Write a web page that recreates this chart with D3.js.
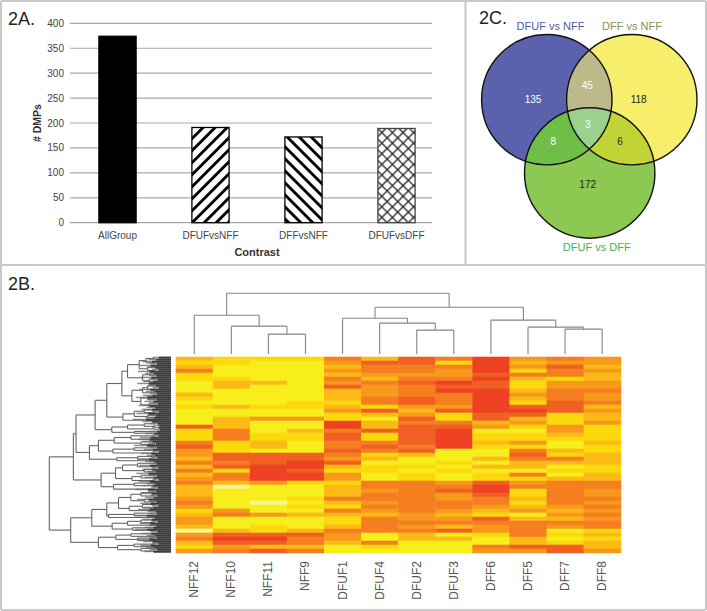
<!DOCTYPE html>
<html>
<head>
<meta charset="utf-8">
<script src="https://cdn.jsdelivr.net/npm/d3@7"></script>
<style>
  body { margin: 0; background: #fff; }
  text { font-family: "Liberation Sans", Arial, sans-serif; }
</style>
</head>
<body>
<svg id="chart" width="707" height="611"></svg>
<script>
// panel A values
const contrasts = ["AllGroup", "DFUFvsNFF", "DFFvsNFF", "DFUFvsDFF"]
const dmpCounts = [374, 191, 172, 189]
const dmpTicks = [0, 50, 100, 150, 200, 250, 300, 350, 400]

// panel C values
const vennNames = ["DFUF vs NFF", "DFF vs NFF", "DFUF vs DFF"]
const vennCounts = [135, 118, 172, 45, 8, 6, 3]

// panel B, one list per sample, top row first (0 pale yellow ... 7 red)
const samples = ["NFF12", "NFF10", "NFF11", "NFF9", "DFUF1", "DFUF4", "DFUF2", "DFUF3", "DFF6", "DFF5", "DFF7", "DFF8"]
const NFF12 = [3,2,3,5,2,2,1,1,1,3,2,1,2,1,1,1,1,6,2,2,2,5,6,4,4,3,5,3,5,3,4,5,3,3,3,4,5,4,2,3,4,4,3,0,4,5,3,2,4]
const NFF10 = [2,2,1,1,1,2,3,3,1,1,1,1,3,1,1,3,3,3,5,5,5,2,2,2,6,6,5,6,2,5,5,3,0,1,1,1,1,1,4,5,1,1,1,3,6,7,6,4,5]
const NFF11 = [2,1,1,1,1,1,3,1,1,1,1,1,2,1,1,4,1,1,1,2,2,3,3,1,6,6,6,7,7,7,7,4,1,1,1,1,0,1,1,4,1,1,2,2,6,7,6,3,6]
const NFF9 = [2,1,1,1,1,1,1,1,1,1,1,2,2,1,1,4,1,1,3,2,2,1,1,1,6,6,7,7,6,7,7,2,1,1,1,2,1,2,1,3,1,1,1,3,6,5,5,3,5]
const DFUF1 = [5,4,3,4,3,5,4,6,3,3,3,2,3,4,2,2,7,7,5,6,6,5,5,6,5,4,6,3,2,4,4,2,3,3,3,5,3,2,5,3,2,2,3,5,4,4,3,1,1]
const DFUF4 = [3,6,5,5,4,3,5,4,4,4,5,5,2,6,3,1,3,3,6,2,2,5,6,5,2,3,1,2,2,1,1,5,5,4,5,5,4,5,4,3,5,5,5,5,1,1,5,2,1]
const DFUF2 = [6,6,5,5,4,5,6,5,5,5,6,6,4,3,4,6,5,6,6,6,6,6,5,6,3,1,1,2,1,2,2,5,5,5,5,5,5,5,5,4,4,5,4,5,3,3,1,1,1]
const DFUF3 = [5,2,5,4,4,5,7,6,7,5,5,5,4,6,2,2,5,6,7,7,7,7,7,1,1,1,2,1,2,1,1,4,5,6,4,4,5,5,4,3,4,5,3,6,1,3,1,1,1]
const DFF6 = [7,7,7,7,6,7,6,6,7,7,7,7,7,7,6,6,3,4,1,2,2,3,2,1,1,3,1,3,1,2,2,6,7,7,6,5,5,4,3,2,6,5,4,4,2,1,1,5,4]
const DFF5 = [4,3,4,2,5,3,2,2,3,4,3,2,6,7,6,3,4,2,1,2,2,4,2,5,6,5,3,3,1,5,2,4,5,2,2,3,2,3,4,1,3,5,5,5,5,3,3,6,4]
const DFF7 = [5,4,6,5,5,2,4,4,5,5,5,6,6,6,2,2,2,4,4,3,2,1,1,3,2,5,3,1,2,1,3,5,5,5,5,5,5,4,3,4,3,5,4,1,2,1,2,6,6]
const DFF8 = [4,4,3,4,3,3,4,4,5,4,4,5,3,4,3,3,4,2,2,2,2,3,2,2,3,3,3,2,2,3,3,5,5,4,4,5,4,5,4,5,4,5,5,2,3,2,3,3,4]
const heatColumns = [NFF12, NFF10, NFF11, NFF9, DFUF1, DFUF4, DFUF2, DFUF3, DFF6, DFF5, DFF7, DFF8]

// sample tree: [left, right, merge height], ids above 11 are earlier merges
const sampleMerges = [
  [2, 3, 20], [1, 12, 28], [0, 13, 39],
  [6, 7, 24], [5, 15, 31], [4, 16, 36],
  [10, 11, 25], [9, 18, 27], [8, 19, 34],
  [17, 20, 47], [14, 21, 61]
]

// row tree: [merge distance, children...], a plain number is a leaf of that many rows
const rowTree = [364,
  [292,
    [284,
      [227,
        [192,
          [147,
            [130, [95, [75, 2, 3], [70, 2, 2]], [85, 3, [65, 2, 2]]],
            [117, [85, [70, 2, 2], 2], [90, [70, 2, 2], [65, 2, 2]]]],
          [144, [110, [80, 2, 1], [70, 2, 1]], 2]],
        [177, [130, [80, 2, 1], 2], [110, 1, 1]]],
      [244,
        [217, [170, [120, 2, 2], [90, 1, 2]], [174, [110, 2, 1], 2]],
        [162, [100, 2, 1], 1]]],
    [209,
      [166, [145, [100, 2, 2], [80, 1, 2]], [117, [90, 2, 1], 2]],
      [172, [110, 1, 2], 2]]],
  [300,
    [237,
      [192,
        [157, [120, [90, 2, 2], [80, 2, 1]], [125, [85, 2, 2], 1]],
        [187, [110, 2, 1], 1]],
      [176, [130, [90, 2, 1], 2], [115, 1, 2]]],
    [217, [165, [120, 2, 1], [100, 1, 2]], [160, [110, 2, 1], [90, 1, 2]]]]
]
// where each row's fine branch starts, as distance from the tips
const rowTips = [50,62,78,58,84,66,52,90,70,60,82,55,74,92,64,50,86,68,58,76,
  96,60,72,54,88,66,80,50,94,62,70,104,78,56,48,52,46,60,70,52,84,90,76,62,100,58,74,50,
  82,66,56,92,70,60,86,52,78,64,94,58,72,50,88,66,76,54,96,62,80,56,70,92,60,84,52,74,
  90,64,58,100,68,78,54,86,62,72,98,56,82,66,60,90,76,52,84,68,58,72]

const svg = d3.select("#chart")
const frameColor = "#c9c9c9"

// panel frames
const frameLines = [[1, 1, 706, 1], [1, 610, 706, 610], [1, 1, 1, 610], [706, 1, 706, 610], [1, 265, 706, 265], [465.5, 1, 465.5, 265]]
svg.append("g").selectAll("line").data(frameLines).join("line")
  .attr("x1", d => d[0]).attr("y1", d => d[1]).attr("x2", d => d[2]).attr("y2", d => d[3])
  .attr("stroke", frameColor).attr("stroke-width", 2)

const panelLabels = [["2A.", 8, 25], ["2C.", 479, 24], ["2B.", 8, 290]]
svg.append("g").selectAll("text").data(panelLabels).join("text")
  .attr("x", d => d[1]).attr("y", d => d[2])
  .attr("font-size", 18).attr("fill", "#222")
  .text(d => d[0])

// ---- 2A bars ----
const defs = svg.append("defs")

function addHatch(id, angle, size, lineW, color, cross) {
  const p = defs.append("pattern").attr("id", id)
    .attr("patternUnits", "userSpaceOnUse")
    .attr("width", size).attr("height", size)
    .attr("patternTransform", `rotate(${angle})`)
  p.append("rect").attr("width", size).attr("height", size).attr("fill", "#fff")
  p.append("line").attr("x1", 0).attr("y1", size / 2).attr("x2", size).attr("y2", size / 2)
    .attr("stroke", color).attr("stroke-width", lineW)
  if (cross) {
    p.append("line").attr("x1", size / 2).attr("y1", 0).attr("x2", size / 2).attr("y2", size)
      .attr("stroke", color).attr("stroke-width", lineW)
  }
}
addHatch("hatchUp", -45, 8.5, 2.9, "#000")
addHatch("hatchDown", 45, 8.5, 2.9, "#000")
addHatch("hatchCross", 45, 7.5, 1.3, "#222", true)

const barFills = ["#000", "url(#hatchUp)", "url(#hatchDown)", "url(#hatchCross)"]

const xBar = d3.scaleBand().domain(contrasts).range([71, 443]).paddingInner(0.6).paddingOuter(0.3)
const yBar = d3.scaleLinear().domain([0, 400]).range([222.7, 23.3])

svg.append("g").selectAll("line").data(dmpTicks).join("line")
  .attr("x1", 70).attr("x2", 432)
  .attr("y1", d => yBar(d)).attr("y2", d => yBar(d))
  .attr("stroke", "#a9a9a9").attr("stroke-width", 1.2)

svg.append("g").attr("font-size", 10).attr("fill", "#444")
  .selectAll("text").data(dmpTicks).join("text")
  .attr("x", 64).attr("y", d => yBar(d) + 3.5)
  .attr("text-anchor", "end")
  .text(d => d)

svg.append("g").selectAll("rect").data(contrasts).join("rect")
  .attr("x", d => xBar(d))
  .attr("y", (d, i) => yBar(dmpCounts[i]))
  .attr("width", xBar.bandwidth())
  .attr("height", (d, i) => yBar(0) - yBar(dmpCounts[i]))
  .attr("fill", (d, i) => barFills[i])
  .attr("stroke", (d, i) => i == 3 ? "#444" : "#000")
  .attr("stroke-width", 1.3)

svg.append("g").attr("font-size", 10).attr("fill", "#444")
  .selectAll("text").data(contrasts).join("text")
  .attr("x", d => xBar(d) + xBar.bandwidth() / 2)
  .attr("y", 239)
  .attr("text-anchor", "middle")
  .text(d => d)

svg.append("text").attr("x", 257).attr("y", 256)
  .attr("text-anchor", "middle").attr("font-size", 11).attr("font-weight", "bold").attr("fill", "#333")
  .text("Contrast")
svg.append("text").attr("transform", "translate(41,123) rotate(-90)")
  .attr("text-anchor", "middle").attr("font-size", 10.5).attr("font-weight", "bold").attr("fill", "#333")
  .text("# DMPs")

// ---- 2C venn ----
const circleR = 65.2
const vennCircles = [
  { id: "vennBlue", cx: 546.8, cy: 99.7, fill: "#5a62ae" },
  { id: "vennYellow", cx: 631.8, cy: 99.7, fill: "#f7ee6c" },
  { id: "vennGreen", cx: 589.7, cy: 173, fill: "#8cc852" }
]
defs.selectAll("clipPath").data(vennCircles).join("clipPath")
  .attr("id", d => d.id)
  .append("circle").attr("cx", d => d.cx).attr("cy", d => d.cy).attr("r", circleR)

const venn = svg.append("g")
venn.selectAll("circle.base").data(vennCircles).join("circle")
  .attr("class", "base")
  .attr("cx", d => d.cx).attr("cy", d => d.cy).attr("r", circleR).attr("fill", d => d.fill)

// overlaps are the later circle clipped by the earlier one
const vennOverlaps = [
  { from: 1, clip: "vennBlue", fill: "#bdb98a" },
  { from: 2, clip: "vennBlue", fill: "#6fbe47" },
  { from: 2, clip: "vennYellow", fill: "#c2d435" }
]
venn.selectAll("circle.overlap").data(vennOverlaps).join("circle")
  .attr("class", "overlap")
  .attr("cx", d => vennCircles[d.from].cx).attr("cy", d => vennCircles[d.from].cy).attr("r", circleR)
  .attr("clip-path", d => `url(#${d.clip})`)
  .attr("fill", d => d.fill)

venn.append("g").attr("clip-path", "url(#vennBlue)")
  .append("circle")
  .attr("cx", vennCircles[2].cx).attr("cy", vennCircles[2].cy).attr("r", circleR)
  .attr("clip-path", "url(#vennYellow)")
  .attr("fill", "#9bd08e")

venn.selectAll("circle.edge").data(vennCircles).join("circle")
  .attr("class", "edge")
  .attr("cx", d => d.cx).attr("cy", d => d.cy).attr("r", circleR)
  .attr("fill", "none").attr("stroke", "#111").attr("stroke-width", 1.4)

const vennSpots = [[533, 99], [638.7, 99], [587.7, 184], [587.3, 85], [553.3, 141.3], [620, 141.3], [587.7, 124]]
const vennInk = ["#fff", "#222", "#222", "#fff", "#fff", "#222", "#fff"]
svg.append("g").attr("font-size", 10).attr("text-anchor", "middle")
  .selectAll("text").data(vennCounts).join("text")
  .attr("x", (d, i) => vennSpots[i][0])
  .attr("y", (d, i) => vennSpots[i][1] + 3.6)
  .attr("fill", (d, i) => vennInk[i])
  .text(d => d)

const vennLabelSpots = [[550.5, 30], [632, 30], [596.7, 251]]
const vennLabelInk = ["#5057a6", "#8f8c52", "#43b649"]
svg.append("g").attr("font-size", 11).attr("text-anchor", "middle")
  .selectAll("text").data(vennNames).join("text")
  .attr("x", (d, i) => vennLabelSpots[i][0])
  .attr("y", (d, i) => vennLabelSpots[i][1])
  .attr("fill", (d, i) => vennLabelInk[i])
  .text(d => d)

// ---- 2B heatmap ----
const rowCount = NFF12.length
const xHeat = d3.scaleBand().domain(samples).range([175.7, 620.7])
const yHeat = d3.scaleBand().domain(d3.range(rowCount)).range([356.7, 552.7])
const heatColor = d3.scaleLinear()
  .domain([0, 1, 2, 3, 4, 5, 6, 7])
  .range(["#fbf590", "#f8ee1e", "#fcd90c", "#fbba18", "#f8991d", "#f57d20", "#f16122", "#ee4324"])

defs.append("filter").attr("id", "soft").append("feGaussianBlur").attr("stdDeviation", 0.5)

svg.append("g").attr("filter", "url(#soft)")
  .selectAll("g").data(samples).join("g")
  .selectAll("rect").data((s, i) => heatColumns[i].map((v, r) => ({ s, v, r }))).join("rect")
  .attr("x", d => xHeat(d.s))
  .attr("y", d => yHeat(d.r))
  .attr("width", xHeat.bandwidth() + 0.5)
  .attr("height", yHeat.bandwidth() + 0.5)
  .attr("fill", d => heatColor(d.v))

svg.append("g").attr("font-size", 12).attr("fill", "#555")
  .selectAll("text").data(samples).join("text")
  .attr("transform", d => `translate(${xHeat(d) + xHeat.bandwidth() / 2 + 4},561) rotate(-90)`)
  .attr("text-anchor", "end")
  .text(d => d)

// sample dendrogram on top
const yTree = d3.scaleLinear().domain([0, 61]).range([354, 293.3])
const treeNodes = samples.map(s => ({ x: xHeat(s) + xHeat.bandwidth() / 2, h: 0 }))
const treeSegs = []
sampleMerges.forEach(m => {
  const a = treeNodes[m[0]], b = treeNodes[m[1]]
  treeNodes.push({ x: (a.x + b.x) / 2, h: m[2] })
  treeSegs.push([a.x, a.h, a.x, m[2]], [b.x, b.h, b.x, m[2]], [a.x, m[2], b.x, m[2]])
})
svg.append("g").selectAll("line").data(treeSegs).join("line")
  .attr("x1", d => d[0]).attr("x2", d => d[2])
  .attr("y1", d => yTree(d[1])).attr("y2", d => yTree(d[3]))
  .attr("stroke", "#858585").attr("stroke-width", 1.1)

// row dendrogram on the left
const xRowTree = d3.scaleLinear().domain([0, 364]).range([171, 49.3])
const yTips = d3.scaleBand().domain(d3.range(rowTips.length)).range([356.7, 552.7])

function countLeaves(node) {
  return typeof node == "number" ? node : d3.sum(node.slice(1), countLeaves)
}
const yLeaf = d3.scaleLinear().domain([0, countLeaves(rowTree)]).range([356.7, 552.7])
const rowSegs = []
let leafPos = 0
function placeRow(node) {
  if (typeof node == "number") {
    const y = yLeaf(leafPos + node / 2)
    leafPos += node
    return { d: 48, y: y }
  }
  const kids = node.slice(1).map(placeRow)
  kids.forEach(k => rowSegs.push([k.d, k.y, node[0], k.y]))
  rowSegs.push([node[0], kids[0].y, node[0], kids[kids.length - 1].y])
  return { d: node[0], y: (kids[0].y + kids[kids.length - 1].y) / 2 }
}
placeRow(rowTree)

// gray fringe of fine branches, then the tree, then the dark leaf block
svg.append("g").selectAll("rect").data(rowTips).join("rect")
  .attr("x", d => xRowTree(d * 1.1))
  .attr("y", (d, i) => yTips(i))
  .attr("width", d => xRowTree(0) - xRowTree(d * 1.1))
  .attr("height", yTips.bandwidth() * 0.75)
  .attr("fill", "#8d8d8d")

svg.append("g").selectAll("line").data(rowSegs).join("line")
  .attr("x1", d => xRowTree(d[0])).attr("x2", d => xRowTree(d[2]))
  .attr("y1", d => d[1]).attr("y2", d => d[3])
  .attr("stroke", "#666").attr("stroke-width", 1.1)

svg.append("g").selectAll("rect").data(rowTips).join("rect")
  .attr("x", d => xRowTree(d * 0.72))
  .attr("y", (d, i) => yTips(i))
  .attr("width", d => xRowTree(0) - xRowTree(d * 0.72))
  .attr("height", yTips.bandwidth())
  .attr("fill", "#3a3a3a")
</script>
</body>
</html>
